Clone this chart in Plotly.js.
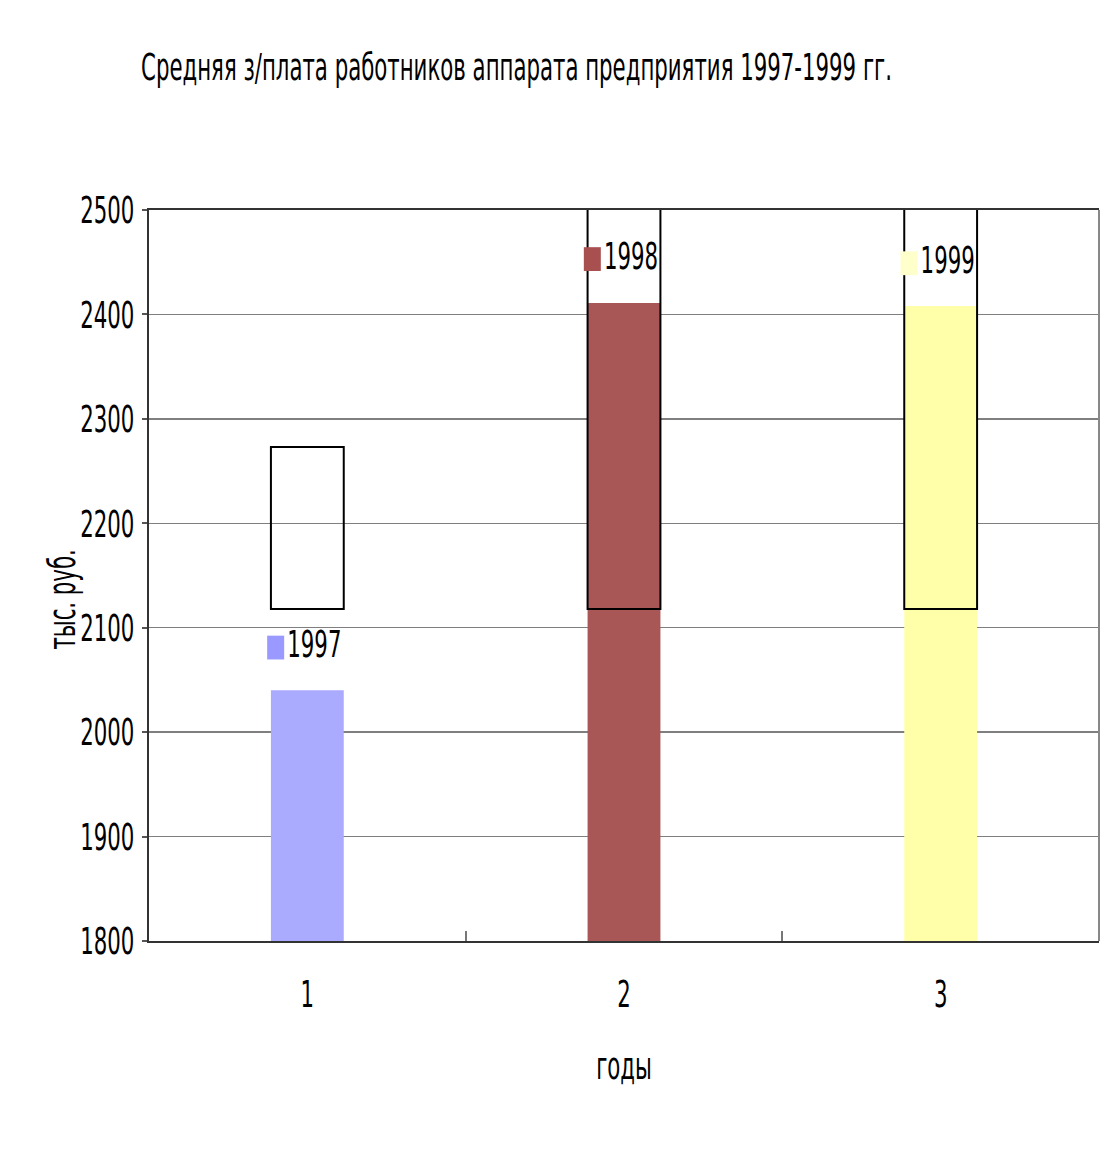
<!DOCTYPE html>
<html>
<head>
<meta charset="utf-8">
<script src="https://cdn.plot.ly/plotly-3.0.1.min.js"></script>
<style>
  html, body { margin: 0; padding: 0; background: #fff; }
  #chart { width: 1112px; height: 1152px; }
</style>
</head>
<body>
<div id="chart"></div>
<script>
// Средняя з/плата работников аппарата, тыс. руб.
const categories = [1, 2, 3];
const years = ['1997', '1998', '1999'];
const salary = [2040, 2411, 2408];

// Рамки-подложки под подписями серий (нижняя и верхняя граница)
const frameLow = [2118, 2118, 2118];
const frameHigh = [2273, 2507, 2507];

// Уровни, на которых стоят подписи серий
const keyLevel = [2081, 2453, 2449];

const barColors = ['#aaaaff', '#a85656', '#ffffaa'];
const keyColors = ['#9999ff', '#a85050', '#ffffcc'];

const FONT = 'DejaVu Sans, sans-serif';
const FS = 38;
const SQUEEZE = 0.56;   // узкое начертание шрифта
const keyShift = 0.1;   // сдвиг подписи влево от центра столбца

const traces = [
  {
    type: 'bar',
    x: categories,
    y: salary,
    width: 0.23,
    marker: { color: barColors, line: { width: 0 } },
    hoverinfo: 'x+y',
    showlegend: false
  },
  {
    type: 'bar',
    x: categories,
    base: frameLow,
    y: frameHigh.map((v, i) => v - frameLow[i]),
    width: 0.23,
    marker: { color: 'rgba(0,0,0,0)', line: { color: '#000', width: 2 } },
    hoverinfo: 'skip',
    showlegend: false
  },
  {
    type: 'scatter',
    mode: 'markers+text',
    x: categories.map(c => c - keyShift),
    y: keyLevel,
    text: years,
    textposition: 'middle right',
    textfont: { family: FONT, size: FS, color: '#000' },
    marker: {
      symbol: 'line-ns',
      size: 17,
      color: keyColors,
      line: { color: keyColors, width: 17 }
    },
    cliponaxis: false,
    hoverinfo: 'skip',
    showlegend: false
  }
];

const layout = {
  width: 1112,
  height: 1152,
  margin: { l: 149, r: 13, t: 210, b: 211 },
  paper_bgcolor: '#fff',
  plot_bgcolor: '#fff',
  barmode: 'overlay',
  showlegend: false,
  font: { family: FONT, size: FS, color: '#000' },
  title: {
    text: 'Средняя з/плата работников аппарата предприятия 1997-1999 гг.',
    font: { family: FONT, size: FS, color: '#000' },
    xref: 'container',
    x: 0.4645,
    xanchor: 'center',
    yref: 'container',
    y: 1 - 67 / 1152,
    yanchor: 'middle'
  },
  xaxis: {
    type: 'linear',
    range: [0.5, 3.5],
    tickvals: categories,
    ticktext: categories.map(String),
    ticks: '',
    minor: {
      tickmode: 'array',
      tickvals: [1.5, 2.5],
      ticks: 'inside',
      ticklen: 10,
      tickwidth: 2,
      tickcolor: '#777',
      showgrid: false
    },
    showgrid: false,
    zeroline: false,
    showline: true,
    mirror: true,
    linecolor: '#333',
    linewidth: 2,
    tickfont: { family: FONT, size: FS, color: '#000' },
    ticklabelstandoff: 18,
    title: {
      text: 'годы',
      font: { family: FONT, size: FS, color: '#000' },
      standoff: 38
    },
    fixedrange: true
  },
  yaxis: {
    range: [1800, 2500],
    dtick: 100,
    ticks: 'outside',
    ticklen: 5,
    tickwidth: 2,
    tickcolor: '#555',
    showgrid: true,
    gridcolor: '#7f7f7f',
    gridwidth: 1.5,
    zeroline: false,
    showline: true,
    linecolor: '#333',
    linewidth: 2,
    tickfont: { family: FONT, size: FS, color: '#000' },
    ticklabelstandoff: 0,
    fixedrange: true
  },
  annotations: [
    {
      text: 'тыс. руб.',
      textangle: -90,
      xref: 'paper', yref: 'paper',
      x: 0, y: (941 - 600) / 731,
      xanchor: 'center', yanchor: 'middle',
      xshift: -87,
      showarrow: false,
      font: { family: FONT, size: FS, color: '#000' }
    }
  ],
  shapes: [
    {
      type: 'line', xref: 'paper', yref: 'paper',
      x0: 1, x1: 1, y0: 0, y1: 1,
      line: { color: '#888', width: 2 }
    }
  ]
};

// Сжатие текста по горизонтали вокруг точки привязки
function squeezeText(gd, s) {
  gd.querySelectorAll('svg text').forEach(t => {
    const x = parseFloat(t.getAttribute('x')) || 0;
    const prev = t.getAttribute('transform') || '';
    t.setAttribute('transform',
      prev + ' translate(' + x + ',0) scale(' + s + ',1) translate(' + (-x) + ',0)');
  });
}

const gd = document.getElementById('chart');
Plotly.newPlot(gd, traces, layout, { displayModeBar: false, staticPlot: true })
  .then(() => squeezeText(gd, SQUEEZE));
</script>
</body>
</html>
